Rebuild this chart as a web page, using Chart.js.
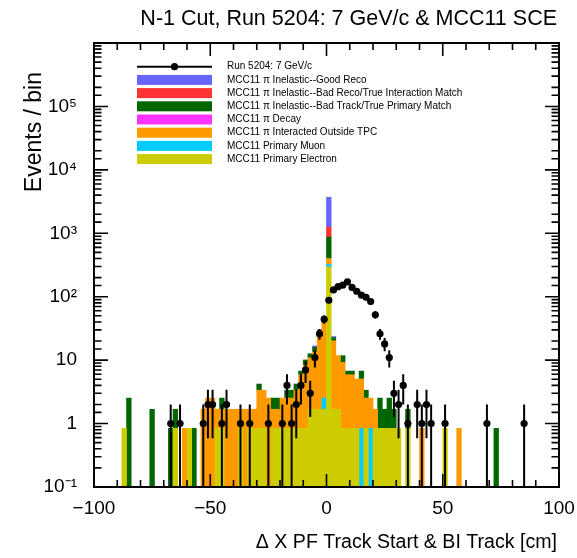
<!DOCTYPE html>
<html>
<head>
<meta charset="utf-8">
<title>N-1 Cut, Run 5204: 7 GeV/c &amp; MCC11 SCE</title>
<script src="https://cdn.jsdelivr.net/npm/chart.js@4.4.1/dist/chart.umd.min.js"></script>
<style>
  html, body { margin: 0; padding: 0; background: #fff; }
  #chart { display: block; }
</style>
</head>
<body>
<canvas id="chart" width="577" height="558"></canvas>
<script>
// 2 cm bins, centres of the bins that hold any MC entries
const binCenters = [-87,-85,-75,-67,-65,-61,-59,-57,-53,-51,-49,-47,-45,-43,-41,-39,-37,-35,-33,-31,
  -29,-27,-25,-23,-21,-19,-17,-15,-13,-11,-9,-7,-5,-3,-1,1,3,5,7,9,
  11,13,15,17,19,21,23,25,27,29,31,35,41,51,57,73];

// stacked MC (already scaled to data), bottom of the stack first
const primaryElectron = [.84,0,0,0,.84,0,.84,0,0,0,0,.84,.84,0,0,0,.84,0,.84,.84,
  .84,.84,0,.84,.84,.84,.84,.84,.84,.84,.84,1.68,1.68,1.68,1.68,293,1.68,1.68,.84,.84,
  .84,.84,0,.84,0,.84,.84,.84,.84,.84,.84,.84,0,.84,0,0];
const primaryMuon = [0,0,0,0,0,0,0,0,0,0,0,0,0,0,0,0,0,0,0,0,
  0,0,0,0,0,0,0,0,0,0,0,0,0,0,.84,29,0,0,0,0,
  0,0,.84,0,.84,0,0,0,0,0,0,0,0,0,0,0];
const outsideTPC = [0,0,0,0,0,.84,0,0,1.68,2.52,2.52,.84,.84,1.68,1.68,1.68,.84,1.68,.84,.84,
  2.52,2.52,2.52,.84,.84,1.68,1.68,1.68,2.52,5.04,7.56,9.24,11.76,21.8,37,78,18.5,10.1,8.4,5.04,
  5.04,4.2,4.2,1.68,1.68,.84,0,0,0,0,0,0,.84,0,.84,0];
const piDecay = [0,0,0,0,0,0,0,0,0,0,0,0,0,0,0,0,0,0,0,0,
  0,0,0,0,0,0,0,0,0,0,0,0,0,0,0,0,0,0,0,0,
  0,0,0,0,0,0,0,0,0,0,0,0,0,0,0,0];
const badTrack = [0,2.52,1.68,.84,.84,0,0,.84,0,0,0,0,.84,0,0,0,0,0,0,0,
  .84,0,0,.84,.84,0,.84,.84,.84,.84,1.68,1.68,2.52,4.2,6.72,470,2.52,0,2.52,.84,
  .84,0,1.68,.84,0,0,1.68,.84,1.68,.84,0,.84,0,0,0,.84];
const badReco = [0,0,0,0,0,0,0,0,0,0,0,0,0,0,0,0,0,0,0,0,
  0,0,0,0,0,0,0,0,0,0,0,0,0,.84,.84,380,0,0,0,0,
  0,0,0,0,0,0,0,0,0,0,0,0,0,0,0,0];
const goodReco = [0,0,0,0,0,0,0,0,0,0,0,0,0,0,0,0,0,0,0,0,
  0,0,0,0,0,0,0,0,0,0,0,0,.84,1.68,2.52,2450,.84,0,0,0,
  0,0,0,0,0,0,0,0,0,0,0,0,0,0,0,0];

// data, Run 5204
const dataBins = [-67,-63,-53,-51,-49,-45,-43,-37,-33,-25,-19,-17,-15,-13,-11,-9,-7,-5,-3,-1,
  1,3,5,7,9,11,13,15,17,19,21,23,25,27,29,31,33,35,39,41,43,45,51,69,85];
const dataCounts = [1,1,1,2,2,1,2,1,1,1,1,4,1,2,4,7,3,11,26,44,
  88,128,144,152,172,140,122,106,98,84,52,26,18,11,3,2,4,1,2,1,2,1,1,1,1];

const xTickLabels = {'-100': '\u2212100', '-50': '\u221250', '0': '0', '50': '50', '100': '100'};
const yTickLabels = {'-1': '10\u207b\u00b9', '0': '1', '1': '10', '2': '10\u00b2', '3': '10\u00b3', '4': '10\u2074', '5': '10\u2075'};

const mcSeries = [
  { label: 'MCC11 Primary Electron', values: primaryElectron, color: '#cccc00' },
  { label: 'MCC11 Primary Muon', values: primaryMuon, color: '#00ccff' },
  { label: 'MCC11 \u03c0 Interacted Outside TPC', values: outsideTPC, color: '#ff9900' },
  { label: 'MCC11 \u03c0 Decay', values: piDecay, color: '#ff33ff' },
  { label: 'MCC11 \u03c0 Inelastic--Bad Track/True Primary Match', values: badTrack, color: '#006600' },
  { label: 'MCC11 \u03c0 Inelastic--Bad Reco/True Interaction Match', values: badReco, color: '#ff3333' },
  { label: 'MCC11 \u03c0 Inelastic--Good Reco', values: goodReco, color: '#6666ff' }
];

const FONT = '"Liberation Sans", Arial, Helvetica, sans-serif';

const datasets = [{
  type: 'scatter',
  label: 'Run 5204: 7 GeV/c',
  data: dataBins.map((b, i) => ({ x: b, y: dataCounts[i] })),
  pointRadius: 3.6,
  pointBackgroundColor: '#000',
  pointBorderWidth: 0,
  stack: 'data',
  order: 0
}];
mcSeries.forEach(s => {
  datasets.push({
    type: 'bar',
    label: s.label,
    data: binCenters.map((b, i) => ({ x: b, y: s.values[i] || null })),
    backgroundColor: s.color,
    borderWidth: 0,
    barPercentage: 1,
    categoryPercentage: 1,
    stack: 'mc',
    order: 1
  });
});

// ROOT-like frame with inward ticks on all four sides
const rootFrame = {
  id: 'rootFrame',
  afterDraw(chart) {
    const { ctx, chartArea: a, scales: { x, y } } = chart;
    ctx.save();
    ctx.strokeStyle = '#000';
    ctx.lineWidth = 1.6;
    ctx.beginPath();
    x.ticks.forEach(t => {
      const px = x.getPixelForValue(t.value);
      const len = t.value % 50 === 0 ? 13 : 7;
      ctx.moveTo(px, a.bottom); ctx.lineTo(px, a.bottom - len);
      ctx.moveTo(px, a.top); ctx.lineTo(px, a.top + len);
    });
    y.ticks.forEach(t => {
      const e = Math.log10(t.value);
      const py = y.getPixelForValue(t.value);
      const len = Math.abs(e - Math.round(e)) < 1e-6 ? 14 : 7.5;
      ctx.moveTo(a.left, py); ctx.lineTo(a.left + len, py);
      ctx.moveTo(a.right, py); ctx.lineTo(a.right - len, py);
    });
    ctx.stroke();
    ctx.lineWidth = 2;
    ctx.strokeRect(a.left, a.top, a.right - a.left, a.bottom - a.top);
    ctx.restore();
  }
};

// Poisson error bars on the data points
const errorBars = {
  id: 'errorBars',
  afterDatasetsDraw(chart) {
    const { ctx, chartArea: a, scales: { x, y } } = chart;
    ctx.save();
    ctx.beginPath();
    ctx.rect(a.left, a.top, a.right - a.left, a.bottom - a.top);
    ctx.clip();
    ctx.strokeStyle = '#000';
    ctx.lineWidth = 2;
    ctx.beginPath();
    dataCounts.forEach((n, i) => {
      const px = x.getPixelForValue(dataBins[i]);
      const lo = n - Math.sqrt(n);
      const hi = n + Math.sqrt(n);
      const yLo = lo > y.min ? y.getPixelForValue(lo) : a.bottom;
      ctx.moveTo(px, yLo);
      ctx.lineTo(px, y.getPixelForValue(hi));
    });
    ctx.stroke();
    ctx.restore();
  }
};

const legendBox = {
  id: 'legendBox',
  afterDraw(chart) {
    const { ctx } = chart;
    const x0 = 137, x1 = 212, tx = 227, y0 = 66.7, dy = 13.2;
    ctx.save();
    ctx.font = '10px ' + FONT;
    ctx.textBaseline = 'middle';
    ctx.fillStyle = '#000';
    // data entry
    ctx.strokeStyle = '#000';
    ctx.lineWidth = 2;
    ctx.beginPath();
    ctx.moveTo(x0, y0); ctx.lineTo(x1, y0);
    ctx.stroke();
    ctx.beginPath();
    ctx.arc((x0 + x1) / 2, y0, 3.6, 0, Math.PI * 2);
    ctx.fill();
    ctx.fillText(datasets[0].label, tx, y0);
    mcSeries.slice().reverse().forEach((s, i) => {
      const yy = y0 + dy * (i + 1);
      ctx.fillStyle = s.color;
      ctx.fillRect(x0, yy - 5, x1 - x0, 10);
      ctx.fillStyle = '#000';
      ctx.fillText(s.label, tx, yy);
    });
    ctx.restore();
  }
};

const titles = {
  id: 'titles',
  afterDraw(chart) {
    const { ctx } = chart;
    ctx.save();
    ctx.fillStyle = '#000';
    ctx.textBaseline = 'alphabetic';
    ctx.textAlign = 'right';
    ctx.font = '21.5px ' + FONT;
    ctx.fillText('N-1 Cut, Run 5204: 7 GeV/c & MCC11 SCE', 557, 25);
    ctx.font = '19.6px ' + FONT;
    ctx.fillText('\u0394 X PF Track Start & BI Track [cm]', 557, 548);
    ctx.translate(41, 72);
    ctx.rotate(-Math.PI / 2);
    ctx.font = '23px ' + FONT;
    ctx.fillText('Events / bin', 0, 0);
    ctx.restore();
  }
};

const ctx = document.getElementById('chart').getContext('2d');
const chart = new Chart(ctx, {
  type: 'bar',
  data: { datasets: datasets },
  options: {
    responsive: false,
    animation: false,
    devicePixelRatio: 1,
    layout: { padding: { top: 43, right: 18, bottom: 0, left: 0 } },
    scales: {
      x: {
        type: 'linear',
        min: -100,
        max: 100,
        stacked: true,
        offset: false,
        grid: { display: false },
        border: { display: false },
        ticks: {
          stepSize: 10,
          autoSkip: false,
          maxRotation: 0,
          padding: 2,
          color: '#000',
          font: { family: FONT, size: 19 },
          callback: v => xTickLabels[String(v)] || ''
        },
        afterFit: s => { s.height = 71; }
      },
      y: {
        type: 'logarithmic',
        min: 0.1,
        max: 1e6,
        stacked: true,
        grid: { display: false },
        border: { display: false },
        ticks: {
          autoSkip: false,
          padding: 9,
          color: '#000',
          font: { family: FONT, size: 19 },
          callback: v => {
            const e = Math.log10(v);
            if (Math.abs(e - Math.round(e)) > 1e-6) return '';
            return yTickLabels[String(Math.round(e))] || '';
          }
        },
        afterFit: s => { s.width = 94; }
      }
    },
    plugins: {
      legend: { display: false },
      tooltip: { enabled: false },
      title: { display: false }
    }
  },
  plugins: [rootFrame, errorBars, legendBox, titles]
});
</script>
</body>
</html>
